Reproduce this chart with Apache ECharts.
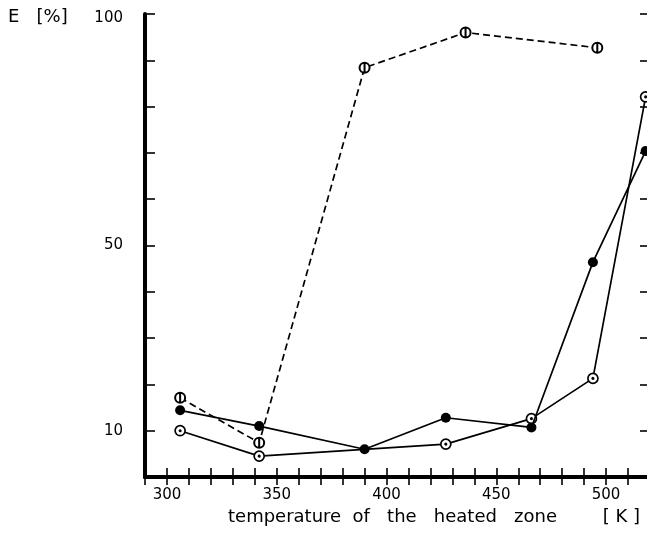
<!DOCTYPE html>
<html>
<head>
<meta charset="utf-8">
<script src="https://cdn.jsdelivr.net/npm/echarts@6/dist/echarts.min.js"></script>
<style>
  html, body { margin: 0; padding: 0; background: #fff; }
  #chart { width: 647px; height: 535px; }
</style>
</head>
<body>
<div id="chart"></div>
<script>
// Extraction efficiency E [%] versus temperature of the heated zone [K]
const crossedT = [306, 342, 390, 436, 496];
const crossedE = [17.1, 7.4, 88.4, 96.0, 92.7];

const filledT = [306, 342, 390, 427, 466, 494, 518];
const filledE = [14.4, 11.0, 6.0, 12.8, 10.7, 46.4, 70.4];

const dottedT = [306, 342, 427, 466, 494, 518];
const dottedE = [10.0, 4.5, 7.1, 12.6, 21.3, 82.1];

const xTickLabels = [300, 350, 400, 450, 500];
const yTickLabels = [10, 50, 100];

const pairs = (xs, ys) => xs.map((x, i) => [x, ys[i]]);

// open ring with a vertical bar, and open ring with a centre dot
const RING_BAR = 'path://M0,10A10,10 0 1,0 20,10A10,10 0 1,0 0,10Z M10,0L10,20';
const RING_DOT = 'path://M0,10A10,10 0 1,0 20,10A10,10 0 1,0 0,10Z M8.6,10A1.4,1.4 0 1,0 11.4,10A1.4,1.4 0 1,0 8.6,10Z';

const FONT = 'DejaVu Sans';
const frameLine = { lineStyle: { color: '#000', width: 4 } };

const xBase = {
  type: 'value', min: 290, max: 520, interval: 10,
  axisLine: frameLine,
  splitLine: { show: false }
};
const yBase = {
  type: 'value', min: 0, max: 100, interval: 10,
  axisLine: frameLine,
  splitLine: { show: false }
};

const chart = echarts.init(document.getElementById('chart'), null, { renderer: 'canvas' });
chart.setOption({
  animation: false,
  backgroundColor: '#fff',
  grid: { left: 145, top: 14, width: 505, height: 463, outerBoundsMode: 'none', containLabel: false },
  xAxis: [
    Object.assign({}, xBase, {
      position: 'bottom',
      axisTick: { inside: true, length: 9, lineStyle: { color: '#000', width: 1.6 } },
      axisLabel: {
        margin: 11, color: '#000', fontFamily: FONT, fontSize: 15,
        formatter: v => xTickLabels.includes(v) ? String(v) : ''
      }
    }),
    Object.assign({}, xBase, {
      position: 'top',
      axisTick: { inside: true, length: 8, lineStyle: { color: '#000', width: 1.6 } },
      axisLabel: { show: false }
    })
  ],
  yAxis: [
    Object.assign({}, yBase, {
      position: 'left',
      axisTick: { inside: true, length: 10, lineStyle: { color: '#000', width: 1.6 } },
      axisLabel: {
        margin: 22, color: '#000', fontFamily: FONT, fontSize: 15,
        formatter: v => yTickLabels.includes(v) ? (v === 100 ? '{top|100}' : String(v)) : '',
        rich: { top: { padding: [9, 0, 0, 0], fontFamily: FONT, fontSize: 15, color: '#000' } }
      }
    }),
    Object.assign({}, yBase, {
      position: 'right',
      axisLine: { show: false },
      axisTick: { inside: true, length: 10, lineStyle: { color: '#000', width: 1.6 } },
      axisLabel: { show: false }
    })
  ],
  graphic: [
    {
      type: 'text', left: 8, top: 8,
      style: { text: 'E   [%]', font: '18px "DejaVu Sans"', fill: '#000' }
    },
    {
      type: 'text', left: 228, top: 508,
      style: {
        text: 'temperature  of   the   heated   zone        [ K ]',
        font: '18px "DejaVu Sans"', fill: '#000'
      }
    }
  ],
  series: [
    {
      type: 'line', xAxisIndex: 0, yAxisIndex: 0,
      data: pairs(dottedT, dottedE),
      symbol: RING_DOT, symbolSize: 10, symbolKeepAspect: true,
      lineStyle: { color: '#000', width: 1.7 },
      itemStyle: { color: '#fff', borderColor: '#000', borderWidth: 1.7 },
      z: 2
    },
    {
      type: 'line', xAxisIndex: 0, yAxisIndex: 0,
      data: pairs(crossedT, crossedE),
      symbol: RING_BAR, symbolSize: 10, symbolKeepAspect: true,
      lineStyle: { color: '#000', width: 1.7, type: [7, 4] },
      itemStyle: { color: '#fff', borderColor: '#000', borderWidth: 2 },
      z: 3
    },
    {
      type: 'line', xAxisIndex: 0, yAxisIndex: 0,
      data: pairs(filledT, filledE),
      symbol: 'circle', symbolSize: 10,
      lineStyle: { color: '#000', width: 1.7 },
      itemStyle: { color: '#000', borderColor: '#000', borderWidth: 0 },
      z: 4
    }
  ]
});
</script>
</body>
</html>
